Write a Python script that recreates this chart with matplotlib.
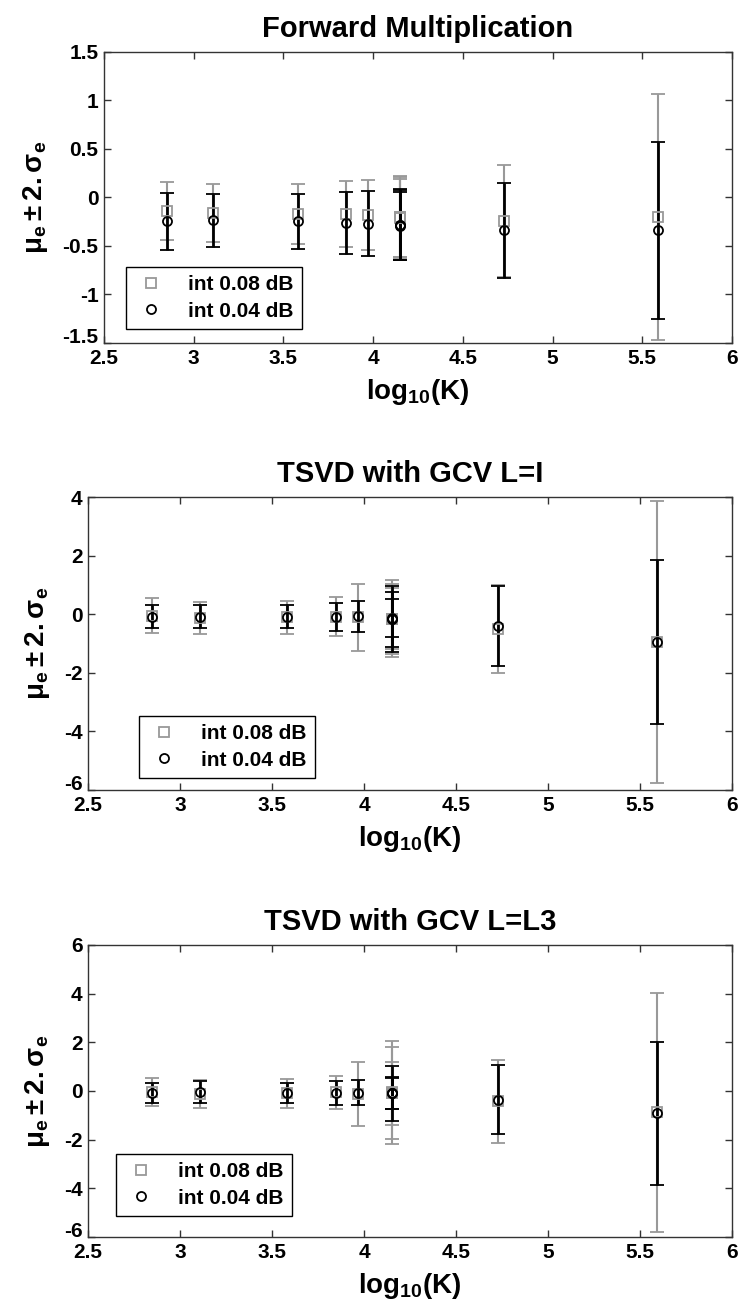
import matplotlib
matplotlib.use("Agg")
import matplotlib.pyplot as plt
from matplotlib.lines import Line2D

plt.rcParams['font.family'] = ['Liberation Sans', 'DejaVu Sans']
plt.rcParams['font.weight'] = 'bold'
plt.rcParams['mathtext.fontset'] = 'custom'
plt.rcParams['mathtext.rm'] = 'Liberation Sans:bold'
plt.rcParams['mathtext.it'] = 'Liberation Sans:bold'
plt.rcParams['mathtext.bf'] = 'Liberation Sans:bold'

# log10(K) positions (three runs share the same K)
log_k = [2.85, 3.11, 3.58, 3.85, 3.97, 4.15, 4.15, 4.15, 4.73, 5.59]

# Forward Multiplication: mean and 2*sigma half-width
fwd_mu_08 = [-0.14, -0.16, -0.17, -0.175, -0.18, -0.20, -0.20, -0.21, -0.245, -0.20]
fwd_2s_08 = [0.30, 0.30, 0.31, 0.34, 0.36, 0.42, 0.41, 0.40, 0.58, 1.27]
fwd_mu_04 = [-0.247, -0.236, -0.247, -0.264, -0.27, -0.28, -0.285, -0.29, -0.34, -0.34]
fwd_2s_04 = [0.29, 0.275, 0.285, 0.32, 0.335, 0.37, 0.36, 0.35, 0.49, 0.91]

# TSVD with GCV, L = I
tsi_mu_08 = [-0.05, -0.135, -0.11, -0.08, -0.11, -0.155, -0.15, -0.15, -0.495, -0.95]
tsi_2s_08 = [0.60, 0.545, 0.57, 0.66, 1.15, 1.32, 1.20, 1.05, 1.495, 4.80]
tsi_mu_04 = [-0.08, -0.085, -0.085, -0.09, -0.07, -0.165, -0.175, -0.12, -0.40, -0.95]
tsi_2s_04 = [0.40, 0.395, 0.395, 0.49, 0.53, 1.125, 0.935, 0.65, 1.37, 2.80]

# TSVD with GCV, L = L3
tsl_mu_08 = [-0.04, -0.12, -0.10, -0.06, -0.115, -0.055, -0.075, -0.10, -0.425, -0.875]
tsl_2s_08 = [0.59, 0.56, 0.58, 0.66, 1.305, 2.125, 1.90, 1.30, 1.705, 4.90]
tsl_mu_04 = [-0.07, -0.06, -0.07, -0.08, -0.075, -0.095, -0.095, -0.10, -0.36, -0.915]
tsl_2s_04 = [0.41, 0.45, 0.41, 0.49, 0.515, 1.125, 0.645, 0.66, 1.41, 2.945]

titles = ["Forward Multiplication", "TSVD with GCV L=I", "TSVD with GCV L=L3"]
ylims = [(-1.5, 1.5), (-6, 4), (-6, 6)]
yticks = [[-1.5, -1, -0.5, 0, 0.5, 1, 1.5], [-6, -4, -2, 0, 2, 4], [-6, -4, -2, 0, 2, 4, 6]]
ytick_labels = [["-1.5", "-1", "-0.5", "0", "0.5", "1", "1.5"],
                ["-6", "-4", "-2", "0", "2", "4"],
                ["-6", "-4", "-2", "0", "2", "4", "6"]]
xticks = [2.5, 3, 3.5, 4, 4.5, 5, 5.5, 6]
xtick_labels = ["2.5", "3", "3.5", "4", "4.5", "5", "5.5", "6"]
series_labels = ["int 0.08 dB", "int 0.04 dB"]

GRAY = "#999999"

fig = plt.figure(figsize=(7.39, 13.05), dpi=100)
positions = [[0.1407, 0.7372, 0.8498, 0.2230],
             [0.1191, 0.3946, 0.8714, 0.2245],
             [0.1191, 0.0521, 0.8714, 0.2238]]
legend_anchor = [(0.035, 0.048), (0.079, 0.041), (0.043, 0.072)]
ylabel_x = [-0.086, -0.056, -0.056]
data = [(fwd_mu_08, fwd_2s_08, fwd_mu_04, fwd_2s_04),
        (tsi_mu_08, tsi_2s_08, tsi_mu_04, tsi_2s_04),
        (tsl_mu_08, tsl_2s_08, tsl_mu_04, tsl_2s_04)]

handles = [Line2D([], [], ls='none', marker='s', mfc='none', mec=GRAY, ms=7, mew=1.3),
           Line2D([], [], ls='none', marker='o', mfc='none', mec='black', ms=6.5, mew=1.3)]

for i, (mu08, s08, mu04, s04) in enumerate(data):
    ax = fig.add_axes(positions[i])
    ax.errorbar(log_k, mu08, yerr=s08, fmt='s', color=GRAY, ecolor=GRAY,
                mfc='none', mec=GRAY, ms=7, mew=1.3, elinewidth=1.5,
                capsize=5, capthick=1.5, clip_on=False)
    ax.errorbar(log_k, mu04, yerr=s04, fmt='o', color='black', ecolor='black',
                mfc='none', mec='black', ms=6.5, mew=1.3, elinewidth=2.0,
                capsize=5, capthick=2.0, clip_on=False)
    ax.set_xlim(2.5, 6)
    ax.set_ylim(*ylims[i])
    ax.set_xticks(xticks)
    ax.set_xticklabels(xtick_labels)
    ax.set_yticks(yticks[i])
    ax.set_yticklabels(ytick_labels[i])
    ax.tick_params(direction='in', top=True, right=True, length=5, width=1,
                   labelsize=15, color='#333333')
    ax.tick_params(axis='y', pad=4)
    ax.tick_params(axis='x', pad=4)
    for lbl in ax.get_xticklabels() + ax.get_yticklabels():
        lbl.set_fontweight('bold')
    # keep the lowest y label clear of the first x label at the corner
    ax.yaxis.get_major_ticks()[0].label1.set_verticalalignment('baseline')
    for sp in ax.spines.values():
        sp.set_color('#333333')
        sp.set_linewidth(1.0)
    ax.set_title(titles[i], fontsize=21, fontweight='bold', pad=11)
    ax.set_xlabel(r'$\mathbf{log_{10}(K)}$', fontsize=20, labelpad=7)
    ax.set_ylabel(r'$\mathbf{\mu_e \pm 2.\sigma_e}$', fontsize=20)
    ax.yaxis.set_label_coords(ylabel_x[i], 0.5)
    leg = ax.legend(handles, series_labels, loc='lower left',
                    bbox_to_anchor=legend_anchor[i], borderaxespad=0,
                    fancybox=False, framealpha=1, edgecolor='black',
                    prop={'size': 15, 'weight': 'bold'},
                    handletextpad=1.0, borderpad=0.4, labelspacing=0.35,
                    handlelength=1.6)
    leg.get_frame().set_linewidth(1.0)

fig.savefig("out.png", dpi=100)
